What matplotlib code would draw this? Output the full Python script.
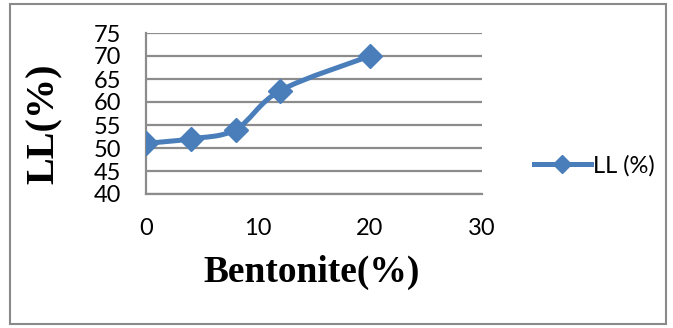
import numpy as np
import matplotlib.pyplot as plt
from matplotlib.path import Path
from matplotlib.patches import PathPatch, Rectangle
from matplotlib.lines import Line2D

bentonite = [0, 4, 8, 12, 20]
ll = [51, 52, 54, 62.5, 70]
y_ticks = [40, 45, 50, 55, 60, 65, 70, 75]
x_ticks = [0, 10, 20, 30]

blue = '#4a7ebb'
grid_gray = '#8c8c8c'
tick_font = ['Lato', 'DejaVu Sans']

fig = plt.figure(figsize=(6.73, 3.28), dpi=100)
ax = fig.add_axes([146 / 673, 1 - 194 / 328, 336 / 673, 161 / 328])

ax.set_xlim(0, 30)
ax.set_ylim(40, 75)
ax.set_xticks(x_ticks)
ax.set_yticks(y_ticks)
ax.grid(axis='y', color=grid_gray, lw=1.6)
ax.set_axisbelow(True)
for side in ['top', 'right']:
    ax.spines[side].set_visible(False)
for side in ['left', 'bottom']:
    ax.spines[side].set_color(grid_gray)
    ax.spines[side].set_linewidth(1.6)
ax.tick_params(length=0, labelsize=17)
ax.tick_params(axis='y', pad=18)
ax.tick_params(axis='x', pad=17)
for lab in ax.get_xticklabels() + ax.get_yticklabels():
    lab.set_fontfamily(tick_font)

# smoothed line through the points (bezier segments built in screen space)
pts = ax.transData.transform(np.column_stack([bentonite, ll]))
verts = [pts[0]]
codes = [Path.MOVETO]
n = len(pts)
for i in range(n - 1):
    p0 = pts[i - 1] if i > 0 else pts[i]
    p1 = pts[i]
    p2 = pts[i + 1]
    p3 = pts[i + 2] if i + 2 < n else pts[i + 1]
    c1 = p1 + (p2 - p0) / 6
    c2 = p2 - (p3 - p1) / 6
    verts += [c1, c2, p2]
    codes += [Path.CURVE4] * 3
verts = ax.transData.inverted().transform(np.array(verts))
ax.add_patch(PathPatch(Path(verts, codes), fill=False, edgecolor=blue,
                       lw=3.6, capstyle='round', joinstyle='round', zorder=3))
ax.plot(bentonite, ll, ls='none', marker='D', ms=12, color=blue, zorder=4)

handle = Line2D([], [], color=blue, lw=3.6, marker='D', ms=9)
fig.legend([handle], ['LL (%)'], loc='center left',
           bbox_to_anchor=(534 / 673, 1 - 166 / 328), frameon=False,
           handlelength=2.4, handletextpad=0.1, borderpad=0, borderaxespad=0,
           prop={'family': tick_font, 'size': 17})

fig.text(44 / 673, 1 - 124 / 328, 'LL(%)', rotation=90, ha='center', va='center',
         family='Liberation Serif', weight='bold', fontsize=29)
fig.text(312 / 673, 1 - 272 / 328, 'Bentonite(%)', ha='center', va='center',
         family='Liberation Serif', weight='bold', fontsize=27)

fig.patches.append(Rectangle((10 / 673, 1 - 324 / 328), 656 / 673, 320 / 328,
                             transform=fig.transFigure, fill=False,
                             edgecolor='#8a8a8a', lw=1.5))

fig.savefig('out.png', dpi=100)
